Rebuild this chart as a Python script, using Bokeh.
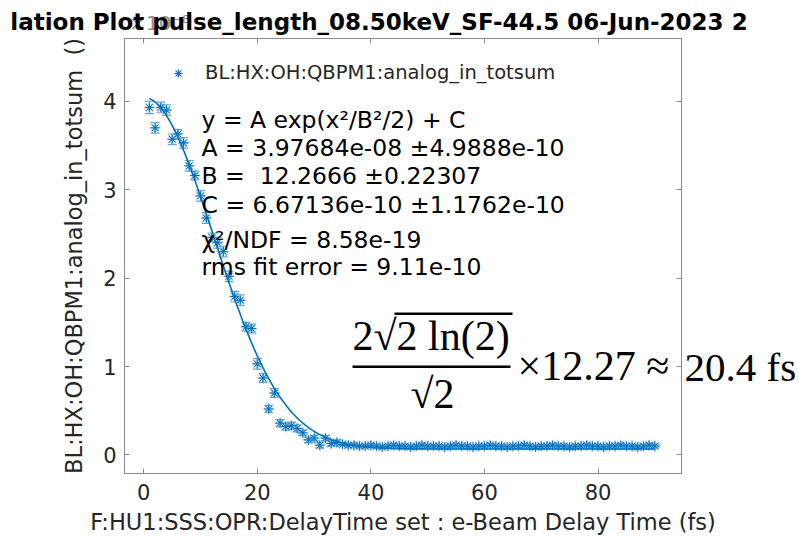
import numpy as np
from bokeh.plotting import figure
from bokeh.models import (ColumnDataSource, Whisker, TeeHead, Label, Legend, LegendItem,
                          LinearAxis, FixedTicker, Range1d, BoxAnnotation)
from bokeh.embed import file_html
from bokeh.resources import INLINE

# ---------------- data (y in units of 1e-8) ----------------
delay_fs = list(range(1, 91))
totsum = [3.93, 3.70, 3.93, 3.90, 3.57, 3.63, 3.53, 3.27, 3.16, 2.93,
          2.68, 2.46, 2.40, 2.30, 2.02, 1.79, 1.75, 1.45, 1.43, 1.03,
          0.87, 0.52, 0.70, 0.36, 0.32, 0.33, 0.30, 0.25, 0.17, 0.19,
          0.11, 0.19, 0.13, 0.14, 0.12, 0.11, 0.11, 0.10, 0.10, 0.11,
          0.10, 0.09, 0.10, 0.11, 0.10, 0.10, 0.09, 0.10, 0.11, 0.10,
          0.10, 0.10, 0.09, 0.10, 0.11, 0.10, 0.10, 0.09, 0.10, 0.10,
          0.11, 0.10, 0.10, 0.09, 0.10, 0.10, 0.11, 0.10, 0.09, 0.10,
          0.10, 0.11, 0.10, 0.10, 0.09, 0.10, 0.10, 0.11, 0.10, 0.10,
          0.09, 0.10, 0.10, 0.11, 0.10, 0.10, 0.09, 0.10, 0.11, 0.10]
totsum_err = [0.07, 0.06, 0.06, 0.06, 0.06, 0.05, 0.06, 0.06, 0.05, 0.06,
              0.06, 0.05, 0.06, 0.06, 0.06, 0.06, 0.06, 0.05, 0.05, 0.06,
              0.05, 0.04, 0.05, 0.04, 0.04, 0.04, 0.04, 0.03, 0.03, 0.03,
              0.03, 0.03, 0.03, 0.03, 0.02, 0.02, 0.02, 0.02, 0.02, 0.02,
              0.02, 0.02, 0.02, 0.02, 0.02, 0.02, 0.02, 0.02, 0.02, 0.02,
              0.02, 0.02, 0.02, 0.02, 0.02, 0.02, 0.02, 0.02, 0.02, 0.02,
              0.02, 0.02, 0.02, 0.02, 0.02, 0.02, 0.02, 0.02, 0.02, 0.02,
              0.02, 0.02, 0.02, 0.02, 0.02, 0.02, 0.02, 0.02, 0.02, 0.02,
              0.02, 0.02, 0.02, 0.02, 0.02, 0.02, 0.02, 0.02, 0.02, 0.02]

# fit parameters (A and C in units of 1e-8)
fit_A = 3.97684
fit_B = 12.2666
fit_C = 0.0667136

x_ticks = [0, 20, 40, 60, 80]
y_ticks = [0, 1, 2, 3, 4]

title_text = "lation Plot pulse_length_08.50keV_SF-44.5 06-Jun-2023 2"
exponent_text = "\u00d710\u207b\u2078"
legend_text = "BL:HX:OH:QBPM1:analog_in_totsum"
x_label = "F:HU1:SSS:OPR:DelayTime set : e-Beam Delay Time (fs)"
y_label = "BL:HX:OH:QBPM1:analog_in_totsum\u00a0\u00a0()"
fit_lines = ["y = A exp(x\u00b2/B\u00b2/2) + C",
             "A = 3.97684e-08 \u00b14.9888e-10",
             "B = \u00a012.2666 \u00b10.22307",
             "C = 6.67136e-10 \u00b11.1762e-10",
             "\u03c7\u00b2/NDF = 8.58e-19",
             "rms fit error = 9.11e-10"]
formula_num = "2\u221a2 ln(2)"
formula_den = "\u221a2"
formula_mid = "\u00d712.27 \u2248"
formula_res = "20.4 fs"

BLUE = "#0072BD"
AXC = "#8a8a8a"
TXT = "#262626"
SANS = "DejaVu Sans"
SERIF = "Liberation Serif"

# ---------------- figure ----------------
W, H = 799, 540
F_L, F_R, F_T, F_B = 124, 683, 38, 473      # frame edges in canvas pixels
p = figure(width=W, height=H, output_backend="svg", toolbar_location=None,
           x_range=Range1d(-3.4, 94.7), y_range=Range1d(-0.21, 4.71),
           min_border_left=F_L, min_border_right=W - F_R,
           min_border_top=F_T, min_border_bottom=H - F_B)
p.xgrid.visible = False
p.ygrid.visible = False
p.outline_line_color = AXC
p.background_fill_color = "white"
p.border_fill_color = "white"

p.xaxis.ticker = FixedTicker(ticks=x_ticks)
p.yaxis.ticker = FixedTicker(ticks=y_ticks)
for ax in (p.xaxis[0], p.yaxis[0]):
    ax.axis_line_color = AXC
    ax.major_tick_line_color = AXC
    ax.major_tick_in = 5
    ax.major_tick_out = 0
    ax.minor_tick_line_color = None
    ax.major_label_text_font = SANS
    ax.major_label_text_font_size = "21px"
    ax.major_label_text_color = TXT
    ax.axis_label_text_font = SANS
    ax.axis_label_text_font_style = "normal"
    ax.axis_label_text_color = TXT
    ax.axis_label_text_font_size = "22.5px"
p.xaxis.major_label_standoff = 10
p.xaxis.axis_label = x_label
p.xaxis.axis_label_standoff = 6
p.yaxis.major_label_standoff = 8
p.yaxis.axis_label = y_label
p.yaxis.axis_label_standoff = 13

# top axis: ticks, axis exponent (as tick label) and the title (as axis label)
top_ax = LinearAxis(ticker=FixedTicker(ticks=x_ticks),
                    major_label_overrides={t: (("\u00a0" * 5 + exponent_text) if t == 0 else "")
                                           for t in x_ticks},
                    major_label_text_font=SANS, major_label_text_font_size="20px",
                    major_label_text_color="#8c8c8c", major_label_standoff=4,
                    axis_label=title_text + "\u00a0" * 6,
                    axis_label_text_font=SANS, axis_label_text_font_size="23px",
                    axis_label_text_font_style="bold", axis_label_text_color="black",
                    axis_label_standoff=-27,
                    axis_line_color=AXC, major_tick_line_color=AXC,
                    major_tick_in=5, major_tick_out=0, minor_tick_line_color=None)
p.add_layout(top_ax, "above")

# right axis: ticks, and the end of the formula that runs past the box
right_ax = LinearAxis(ticker=FixedTicker(ticks=y_ticks),
                      major_label_overrides={t: (formula_res if t == 1 else "") for t in y_ticks},
                      major_label_text_font=SERIF, major_label_text_font_size="41px",
                      major_label_text_color="black", major_label_standoff=3,
                      axis_line_color=AXC, major_tick_line_color=AXC,
                      major_tick_in=5, major_tick_out=0, minor_tick_line_color=None)
p.add_layout(right_ax, "right")

# ---------------- data glyphs ----------------
src = ColumnDataSource(dict(x=delay_fs, y=totsum,
                            lo=[v - e for v, e in zip(totsum, totsum_err)],
                            hi=[v + e for v, e in zip(totsum, totsum_err)]))
wh = Whisker(source=src, base="x", upper="hi", lower="lo", dimension="height",
             line_color="#3b8fd0", line_alpha=0.8, line_width=1.2,
             upper_head=TeeHead(size=9, line_color="#3b8fd0", line_alpha=0.8, line_width=1.2),
             lower_head=TeeHead(size=9, line_color="#3b8fd0", line_alpha=0.8, line_width=1.2))
p.add_layout(wh)
halo = p.scatter("x", "y", source=src, marker="asterisk", size=11,
                 line_color="#7fb4e0", line_width=1.6, line_alpha=0.8)
pts = p.scatter("x", "y", source=src, marker="asterisk", size=9,
                line_color=BLUE, line_width=1.0)

fit_x = np.linspace(delay_fs[0], delay_fs[-1], 300)
fit_y = fit_A * np.exp(-fit_x ** 2 / fit_B ** 2 / 2) + fit_C
p.line(fit_x, fit_y, line_color=BLUE, line_width=1.6)


# ---------------- helpers: canvas pixel -> frame screen units ----------------
def fx(X):
    return X - F_L


def fy(Y):
    return F_B - Y


leg = Legend(items=[LegendItem(label=legend_text, renderers=[halo, pts])],
             location=(fx(168), fy(84)), padding=0, margin=0, spacing=0,
             glyph_width=20, glyph_height=20, label_standoff=17,
             label_text_font=SANS, label_text_font_size="19.5px", label_text_color=TXT,
             border_line_alpha=0, background_fill_alpha=0)
p.add_layout(leg)


def lab(text, X, Ymid, size, font=SANS, color="black"):
    p.add_layout(Label(x=fx(X), y=fy(Ymid), x_units="screen", y_units="screen", text=text,
                       text_font=font, text_font_size=size, text_color=color,
                       text_align="left", text_baseline="middle"))


for t, ym in zip(fit_lines, [119, 147, 175, 204, 239, 266]):
    lab(t, 201, ym, "23.5px")

# formula (inside the box)
lab(formula_num, 352, 335, "42px", font=SERIF)
lab(formula_den, 410, 393, "42px", font=SERIF)
lab(formula_mid, 517, 365, "42px", font=SERIF)
for l, r, t, b in ((394, 512, 312, 314.5), (352, 510, 365, 367.5)):
    p.add_layout(BoxAnnotation(left=fx(l), right=fx(r), top=fy(t), bottom=fy(b),
                               left_units="screen", right_units="screen",
                               top_units="screen", bottom_units="screen",
                               fill_color="black", fill_alpha=1, line_alpha=0))

open("out.html", "w").write(file_html(p, INLINE))
